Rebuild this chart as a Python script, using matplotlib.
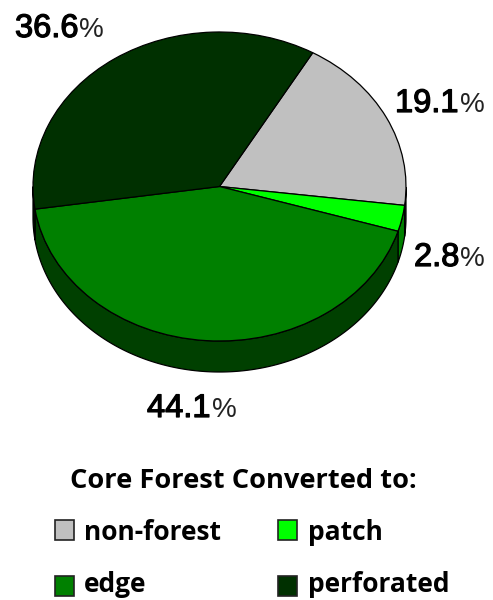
import numpy as np
import matplotlib
matplotlib.use("Agg")
import matplotlib.pyplot as plt
import matplotlib.patheffects as pe
from matplotlib.patches import Rectangle

labels = ["non-forest", "patch", "edge", "perforated"]
values = [19.1, 2.8, 44.1, 36.6]
colors = ["#c0c0c0", "#00ff00", "#008000", "#003000"]
side_colors = ["#606060", "#008000", "#004000", "#001a00"]
value_text = ["19.1", "2.8", "44.1", "36.6"]

W, H = 493, 600
cx, cy, rx, ry = 219.5, 186.5, 186.5, 154.5
depth = 31 / ry
start = 60.0

plt.rcParams["font.family"] = ["Liberation Sans", "DejaVu Sans"]

fig = plt.figure(figsize=(W / 100, H / 100), dpi=100)
ax = fig.add_axes([0, 0, 1, 1])
ax.set_axis_off()

# side wall of the fake 3d pie, only the part facing down
shares = np.array(values) / sum(values) * 360
ends = start - np.cumsum(shares)
starts = ends + shares
for a0, a1, c in zip(starts, ends, side_colors):
    t = np.radians(np.linspace(a1, a0, 200))
    t = t[np.sin(t) <= 0]
    if len(t) == 0:
        continue
    xs = np.cos(t)
    ys = np.sin(t)
    ax.fill(np.r_[xs, xs[::-1]], np.r_[ys, ys[::-1] - depth],
            facecolor=c, edgecolor="black", linewidth=0.9, zorder=1)

ax.pie(values, colors=colors, startangle=start, counterclock=False,
       wedgeprops={"edgecolor": "black", "linewidth": 0.9, "zorder": 2})

# pie forces a square aspect, the ellipse is the tilt
ax.set_aspect("auto")
ax.set_xlim(-cx / rx, (W - cx) / rx)
ax.set_ylim((cy - H) / ry, cy / ry)


def put(x, y, s, **kw):
    return fig.text(x / W, 1 - y / H, s, va="baseline", **kw)


# percent labels, digits heavier than the sign
label_pos = [(395, 112), (414, 266), (147, 417), (15, 37)]
for (x, y), s in zip(label_pos, value_text):
    t = put(x, y, s, fontsize=23.5, color="black")
    t.set_path_effects([pe.withStroke(linewidth=0.9, foreground="black")])
    fig.canvas.draw()
    bb = t.get_window_extent()
    put(bb.x1 + 1, y, "%", fontsize=20, color="#222222")

bold = {"fontweight": "bold", "family": ["Open Sans", "DejaVu Sans"]}
put(70, 488, "Core Forest Converted to:", fontsize=19.6, **bold)

legend_rows = [(55, 520, 84, 540), (278, 520, 308, 540),
               (55, 576, 84, 592), (278, 576, 308, 592)]
for (bx, by, tx, ty), name, c in zip(legend_rows, labels, colors):
    fig.add_artist(Rectangle((bx / W, 1 - (by + 20) / H), 19 / W, 20 / H,
                             facecolor=c, edgecolor="#222222", linewidth=1.2,
                             transform=fig.transFigure))
    put(tx, ty, name, fontsize=19, **bold)

fig.savefig("out.png", dpi=100)
